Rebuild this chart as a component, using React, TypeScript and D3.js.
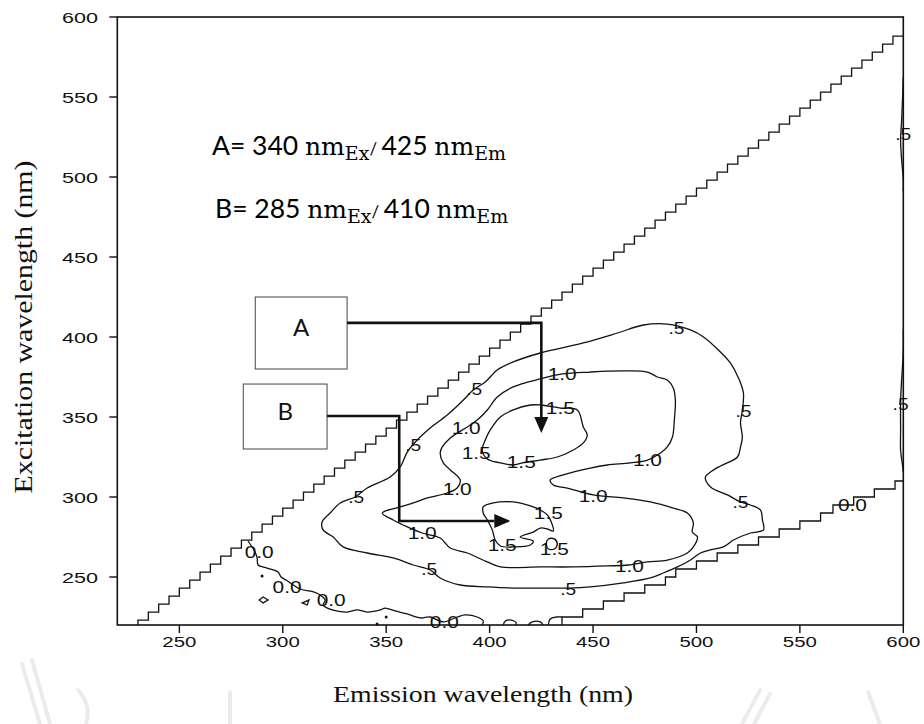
import React from 'react';
import * as d3 from 'd3';

const W = 924;
const H = 724;

// Axis domains and ticks (nm)
const emDomain: [number, number] = [220, 600];
const exDomain: [number, number] = [220, 600];
const emTicks = [250, 300, 350, 400, 450, 500, 550, 600];
const exTicks = [250, 300, 350, 400, 450, 500, 550, 600];

// Fluorescence peaks picked out by the arrows
const peakA = { name: 'A', ex: 340, em: 425 };
const peakB = { name: 'B', ex: 285, em: 410 };

type Pt = [number, number]; // [emission nm, excitation nm]

// Contour level 0.5 (outer loop)
const contour05: Pt[] = [
  [356.8, 318.8], [360.2, 328.1], [365.0, 335.6], [371.3, 343.1], [379.5, 351.2], [387.3, 360.6],
  [392.1, 366.9], [397.9, 371.9], [403.7, 379.4], [411.4, 384.4], [424.5, 390.0], [445.3, 396.3],
  [461.8, 402.5], [474.3, 407.5], [485.9, 408.1], [497.1, 404.4], [503.4, 400.0], [511.6, 390.6],
  [516.4, 383.8], [520.3, 374.4], [522.7, 365.0], [522.2, 354.4], [521.3, 346.3], [522.2, 337.5],
  [521.3, 331.3], [519.8, 325.0], [511.6, 319.4], [506.8, 315.6], [504.3, 312.5], [506.8, 306.3],
  [515.0, 301.3], [521.3, 296.9], [526.1, 295.0], [530.9, 291.9], [531.9, 285.6], [532.4, 279.4],
  [526.1, 277.5], [517.9, 273.1], [513.0, 268.8], [506.8, 266.9], [501.9, 265.0], [497.1, 260.6],
  [490.8, 256.3], [484.0, 252.5], [477.7, 249.4], [464.7, 246.3], [448.7, 243.8], [438.1, 243.1],
  [424.5, 243.1], [411.4, 243.1], [398.9, 243.8], [385.8, 245.0], [376.1, 249.4], [371.3, 254.4],
  [363.1, 257.5], [353.4, 261.9], [340.8, 265.0], [329.2, 268.8], [324.4, 275.0], [319.5, 279.4],
  [319.0, 284.4], [322.9, 290.0], [327.8, 296.3], [335.0, 300.0], [340.8, 305.6], [351.9, 312.5],
];

// Contour level 1.0
const contour10: Pt[] = [
  [424.5, 373.8], [435.1, 376.9], [448.7, 378.1], [464.7, 378.8], [476.3, 378.1], [481.1, 375.0],
  [485.9, 373.1], [488.8, 368.1], [489.8, 360.6], [489.3, 348.1], [488.4, 337.5], [485.9, 331.3],
  [482.6, 327.5], [476.3, 323.1], [468.0, 321.3], [456.9, 320.0], [448.7, 318.1], [435.6, 313.8],
  [429.3, 310.6], [430.8, 307.5], [437.6, 305.6], [450.1, 301.3], [464.7, 299.4], [477.7, 296.9],
  [488.8, 293.1], [495.6, 290.0], [498.5, 283.8], [498.0, 278.1], [500.5, 275.0], [498.5, 268.8],
  [495.6, 265.0], [485.9, 260.6], [476.3, 259.4], [467.1, 257.5], [456.9, 256.9], [440.5, 256.3],
  [424.5, 256.3], [405.2, 256.3], [398.9, 259.4], [389.2, 265.0], [381.0, 268.1], [376.1, 274.4],
  [367.4, 277.5], [360.2, 281.3], [353.4, 285.6], [348.1, 290.0], [356.8, 293.8], [363.1, 296.3],
  [369.8, 299.4], [379.5, 302.5], [384.3, 305.6], [385.8, 310.6], [381.0, 316.9], [377.6, 321.3],
  [376.1, 327.5], [377.1, 331.3], [381.0, 336.9], [389.2, 343.8], [394.0, 348.1], [398.9, 354.4],
  [403.7, 362.5], [411.4, 368.8],
];

// Contour level 1.5: upper peak, lower peak and a small island
const contour15a: Pt[] = [
  [424.5, 357.5], [419.7, 357.5], [411.4, 354.4], [405.2, 350.0], [400.3, 341.9], [397.9, 335.6],
  [396.4, 329.4], [398.9, 323.8], [405.2, 321.3], [411.4, 320.0], [415.8, 321.3], [424.5, 323.1],
  [432.7, 325.0], [440.5, 329.4], [445.3, 333.8], [447.2, 338.8], [445.3, 343.8], [442.4, 354.4],
  [434.2, 355.6],
];
const contour15b: Pt[] = [
  [396.9, 293.8], [401.8, 296.3], [411.4, 296.9], [419.7, 294.4], [424.5, 291.9], [427.9, 288.8],
  [429.8, 284.4], [430.8, 278.8], [427.9, 280.0], [424.5, 280.6], [421.1, 278.1], [414.8, 275.0],
  [421.1, 272.5], [419.7, 270.0], [411.4, 268.8], [405.2, 269.4], [402.7, 273.1], [401.3, 279.4],
  [398.9, 285.6], [396.9, 290.0],
];
const contour15c: Pt[] = [
  [427.4, 270.6], [428.4, 273.8], [431.3, 273.8], [432.7, 270.6], [431.3, 267.5], [428.4, 267.5],
];

// Contour level 0.0 along the lower left
const contour00: Pt[] = [
  [283.2, 272.5], [286.6, 265.6], [287.6, 261.9], [288.1, 257.5], [292.4, 255.6], [297.7, 253.1],
  [299.2, 250.0], [301.6, 248.1], [308.4, 242.5], [315.2, 240.6], [318.1, 238.8], [320.5, 235.6],
  [319.5, 232.5], [323.9, 229.4], [331.1, 228.1], [336.0, 229.4], [340.8, 228.1], [347.1, 229.4],
  [349.5, 230.6], [354.3, 228.8], [360.2, 226.9], [366.4, 224.4], [371.3, 225.0], [377.6, 221.9],
  [384.3, 225.0], [388.2, 226.3], [394.0, 225.0], [396.9, 222.5], [396.4, 220.0],
];
const contour00Bumps: Pt[][] = [
  [[406.6, 220.0], [407.6, 222.5], [410.5, 223.1], [412.9, 221.3], [412.4, 220.0]],
  [[418.7, 220.0], [420.6, 221.9], [424.5, 221.9], [425.9, 220.0]],
  [[428.4, 220.0], [429.3, 223.8], [432.2, 225.0], [435.0, 225.0]],
];
const contour00Islands: Pt[][] = [
  [[288.6, 235.6], [290.5, 237.5], [292.9, 235.6], [290.5, 233.8]],
  [[309.4, 233.8], [312.7, 235.6], [311.8, 232.5]],
];
const contourDots: Pt[] = [[290.0, 250.6], [350.0, 225.0], [345.6, 220.6]];

// Level 0.5 slivers hugging the 600 nm edge
const edge05Upper: Pt[] = [
  [600, 562.5], [599.6, 548.1], [599.2, 535.6], [598.7, 523.1], [599.2, 510.6], [600, 498.1], [600, 491.3],
];
const edge05Lower: Pt[] = [
  [600, 404.4], [600, 391.9], [599.2, 373.1], [598.7, 360.6], [598.7, 341.9], [598.7, 329.4],
  [599.6, 320.0], [600, 315.6],
];

// Contour level labels
const contourLabels: { t: string; em: number; ex: number }[] = [
  { t: '.5', em: 392.6, ex: 367.5 },
  { t: '.5', em: 363.1, ex: 332.5 },
  { t: '1.0', em: 388.7, ex: 343.1 },
  { t: '1.5', em: 393.5, ex: 327.5 },
  { t: '1.5', em: 415.3, ex: 321.9 },
  { t: '.5', em: 490.3, ex: 405.6 },
  { t: '1.0', em: 435.1, ex: 376.9 },
  { t: '1.5', em: 434.2, ex: 355.6 },
  { t: '.5', em: 522.7, ex: 353.8 },
  { t: '1.0', em: 476.3, ex: 323.1 },
  { t: '1.0', em: 384.3, ex: 305.0 },
  { t: '.5', em: 335.5, ex: 300.0 },
  { t: '1.0', em: 367.4, ex: 277.5 },
  { t: '1.5', em: 406.1, ex: 270.0 },
  { t: '.5', em: 370.8, ex: 255.0 },
  { t: '0.0', em: 323.4, ex: 235.6 },
  { t: '0.0', em: 378.1, ex: 221.9 },
  { t: '1.5', em: 428.4, ex: 290.0 },
  { t: '1.5', em: 431.3, ex: 267.5 },
  { t: '0.0', em: 288.6, ex: 265.6 },
  { t: '0.0', em: 302.1, ex: 243.8 },
  { t: '1.0', em: 450.1, ex: 300.6 },
  { t: '.5', em: 521.3, ex: 296.9 },
  { t: '1.0', em: 467.6, ex: 256.9 },
  { t: '.5', em: 438.0, ex: 242.5 },
  { t: '0.0', em: 575.4, ex: 295.0 },
  { t: '.5', em: 598.7, ex: 358.1 },
  { t: '.5', em: 600.0, ex: 526.9 },
];

// First-order Rayleigh band: masked on a 5 nm grid, edge about 7-12 nm below Ex = Em
const rayleighStep = 5;
const rayleighTop = 7;
// Second-order band edge: [emission of riser, excitation at top of riser]
const secondOrderEdge: Pt[] = [
  [435, 225], [445, 230], [455, 235], [465, 240], [475, 245], [485, 250], [490, 255], [500, 260],
  [510, 265], [520, 270], [530, 275], [540, 280], [550, 285], [560, 290], [566, 295], [576, 300],
  [586, 305], [596, 310],
];

// Label boxes and the elbow points of their arrows
const boxA = { em: [286.7, 331.1], ex: [380.0, 425.0] };
const boxB = { em: [280.9, 321.4], ex: [330.0, 370.6] };
const elbowA = { ex: 408.8 };
const elbowB = { em: 356.3, ex: 350.6 };

const x = d3.scaleLinear().domain(emDomain).range([117.3, 903.3]);
const y = d3.scaleLinear().domain(exDomain).range([625, 17]);

const lineOpen = d3
  .line<Pt>()
  .x((d) => x(d[0]))
  .y((d) => y(d[1]))
  .curve(d3.curveCatmullRom.alpha(0.5));
const lineClosed = d3
  .line<Pt>()
  .x((d) => x(d[0]))
  .y((d) => y(d[1]))
  .curve(d3.curveCatmullRomClosed.alpha(0.5));
const lineStraight = d3
  .line<Pt>()
  .x((d) => x(d[0]))
  .y((d) => y(d[1]));

function rayleighPath(): string {
  const steps = d3.range(emDomain[0] + 10, emDomain[1], rayleighStep);
  let d = `M${x(steps[0])},${y(exDomain[0])}`;
  for (const e of steps) {
    d += `V${y(e - rayleighTop)}H${x(Math.min(e + rayleighStep, emDomain[1]))}`;
  }
  return d;
}

function secondOrderPath(): string {
  let d = `M${x(secondOrderEdge[0][0])},${y(exDomain[0])}`;
  for (const [em, ex] of secondOrderEdge) {
    d += `H${x(em)}V${y(ex)}`;
  }
  d += `H${x(emDomain[1])}`;
  return d;
}

const sans = "'Liberation Sans', Arial, sans-serif";
const serif = "'Liberation Serif', 'Times New Roman', serif";
const mathSerif = "'DejaVu Serif', serif";
const labelSans = "Lato, 'Open Sans', sans-serif";

function PeakText({ peak, px, py }: { peak: { name: string; ex: number; em: number }; px: number; py: number }) {
  return (
    <text x={px} y={py} fill="#000">
      <tspan fontFamily={labelSans} fontSize={26.5}>{`${peak.name}= ${peak.ex} `}</tspan>
      <tspan fontFamily={mathSerif} fontSize={25}>nm</tspan>
      <tspan fontFamily={mathSerif} fontSize={19} dy={5}>Ex</tspan>
      <tspan fontFamily={labelSans} fontSize={17} dy={-5}>{'/ '}</tspan>
      <tspan fontFamily={labelSans} fontSize={26.5}>{`${peak.em} `}</tspan>
      <tspan fontFamily={mathSerif} fontSize={25}>nm</tspan>
      <tspan fontFamily={mathSerif} fontSize={19} dy={5}>Em</tspan>
    </text>
  );
}

export default function App() {
  const left = x(emDomain[0]);
  const right = x(emDomain[1]);
  const top = y(exDomain[1]);
  const bottom = y(exDomain[0]);

  // arrow A: right from box A, then down to peak A
  const aStart: Pt = [boxA.em[1], elbowA.ex];
  const aElbow: Pt = [peakA.em, elbowA.ex];
  const aTipX = x(peakA.em);
  const aTipY = y(peakA.ex);
  // arrow B: right from box B, down, then right to peak B
  const bStart: Pt = [boxB.em[1], elbowB.ex];
  const bElbow1: Pt = [elbowB.em, elbowB.ex];
  const bElbow2: Pt = [elbowB.em, peakB.ex];
  const bTipX = x(peakB.em);
  const bTipY = y(peakB.ex);
  const head = 16;
  const half = 7;

  return (
    <svg
      width={W}
      height={H}
      viewBox={`0 0 ${W} ${H}`}
      style={{ position: 'absolute', left: 0, top: 0, background: '#fff' }}
    >
      <rect x={0} y={0} width={W} height={H} fill="#fff" />

      {/* faint watermark strokes below the chart */}
      <g stroke="#ebebeb" strokeWidth={4} fill="none" strokeLinecap="round">
        <path d="M22,664 L40,724" />
        <path d="M32,660 L50,724" />
        <path d="M78,690 Q92,706 86,724" />
        <path d="M230,692 L230,724" />
        <path d="M760,690 L742,724" />
        <path d="M770,694 L754,724" />
        <path d="M868,692 L880,724" />
      </g>

      {/* plot frame */}
      <rect x={left} y={top} width={right - left} height={bottom - top} fill="none" stroke="#111" strokeWidth={1.6} />

      {/* x ticks */}
      <g fontFamily={sans} fontSize={15} fill="#111">
        {emTicks.map((t) => (
          <g key={`xt${t}`}>
            <line x1={x(t)} x2={x(t)} y1={bottom} y2={bottom + 8} stroke="#111" strokeWidth={1.4} />
            <text x={x(t)} y={bottom + 22} textAnchor="middle" textLength={34} lengthAdjust="spacingAndGlyphs">
              {t}
            </text>
          </g>
        ))}
        {exTicks.map((t) => (
          <g key={`yt${t}`}>
            <line x1={left - 8} x2={left} y1={y(t)} y2={y(t)} stroke="#111" strokeWidth={1.4} />
            <text x={98} y={y(t) + 5.5} textAnchor="end" textLength={36} lengthAdjust="spacingAndGlyphs">
              {t}
            </text>
          </g>
        ))}
      </g>

      {/* axis titles */}
      <text
        x={483}
        y={702}
        textAnchor="middle"
        fontFamily={serif}
        fontSize={24}
        fill="#111"
        textLength={300}
        lengthAdjust="spacingAndGlyphs"
      >
        Emission wavelength (nm)
      </text>
      <text
        transform="translate(32,327) rotate(-90)"
        textAnchor="middle"
        fontFamily={serif}
        fontSize={25}
        fill="#111"
        textLength={333}
        lengthAdjust="spacingAndGlyphs"
      >
        Excitation wavelength (nm)
      </text>

      {/* scatter band edges */}
      <path d={rayleighPath()} fill="none" stroke="#111" strokeWidth={1.3} />
      <path d={secondOrderPath()} fill="none" stroke="#111" strokeWidth={1.3} />

      {/* contour lines */}
      <g fill="none" stroke="#111" strokeWidth={1.3}>
        <path d={lineClosed(contour05) || ''} />
        <path d={lineClosed(contour10) || ''} />
        <path d={lineClosed(contour15a) || ''} />
        <path d={lineClosed(contour15b) || ''} />
        <path d={lineClosed(contour15c) || ''} />
        <path d={lineOpen(contour00) || ''} />
        {contour00Bumps.map((b, i) => (
          <path key={`bump${i}`} d={lineOpen(b) || ''} />
        ))}
        {contour00Islands.map((b, i) => (
          <path key={`isl${i}`} d={lineStraight(b) + 'Z'} />
        ))}
        <path d={lineOpen(edge05Upper) || ''} />
        <path d={lineOpen(edge05Lower) || ''} />
      </g>
      {contourDots.map((p, i) => (
        <circle key={`dot${i}`} cx={x(p[0])} cy={y(p[1])} r={1.5} fill="#111" />
      ))}

      {/* contour level labels */}
      <g fontFamily={sans} fontSize={17} fill="#111">
        {contourLabels.map((l, i) => (
          <text
            key={`cl${i}`}
            x={x(l.em)}
            y={y(l.ex) + 6}
            textAnchor="middle"
            textLength={l.t.length === 2 ? 16 : 29}
            lengthAdjust="spacingAndGlyphs"
          >
            {l.t}
          </text>
        ))}
      </g>

      {/* peak annotations */}
      <PeakText peak={peakA} px={212} py={155} />
      <PeakText peak={peakB} px={215} py={218} />

      <g>
        <rect
          x={x(boxA.em[0])}
          y={y(boxA.ex[1])}
          width={x(boxA.em[1]) - x(boxA.em[0])}
          height={y(boxA.ex[0]) - y(boxA.ex[1])}
          fill="#fff"
          stroke="#444"
          strokeWidth={1}
        />
        <text
          x={(x(boxA.em[0]) + x(boxA.em[1])) / 2}
          y={336}
          textAnchor="middle"
          fontFamily={labelSans}
          fontSize={24}
          fill="#111"
        >
          A
        </text>
        <rect
          x={x(boxB.em[0])}
          y={y(boxB.ex[1])}
          width={x(boxB.em[1]) - x(boxB.em[0])}
          height={y(boxB.ex[0]) - y(boxB.ex[1])}
          fill="#fff"
          stroke="#444"
          strokeWidth={1}
        />
        <text
          x={(x(boxB.em[0]) + x(boxB.em[1])) / 2}
          y={420}
          textAnchor="middle"
          fontFamily={labelSans}
          fontSize={24}
          fill="#111"
        >
          B
        </text>
      </g>

      {/* arrows */}
      <g stroke="#111" strokeWidth={2.6} fill="none">
        <path
          d={`M${x(aStart[0])},${y(aStart[1])}H${x(aElbow[0])}V${aTipY - head}`}
        />
        <path
          d={`M${x(bStart[0])},${y(bStart[1])}H${x(bElbow1[0])}V${y(bElbow2[1])}H${bTipX - head}`}
        />
      </g>
      <path
        d={`M${aTipX},${aTipY}L${aTipX - half},${aTipY - head}L${aTipX + half},${aTipY - head}Z`}
        fill="#111"
      />
      <path
        d={`M${bTipX},${bTipY}L${bTipX - head},${bTipY - half}L${bTipX - head},${bTipY + half}Z`}
        fill="#111"
      />
    </svg>
  );
}
